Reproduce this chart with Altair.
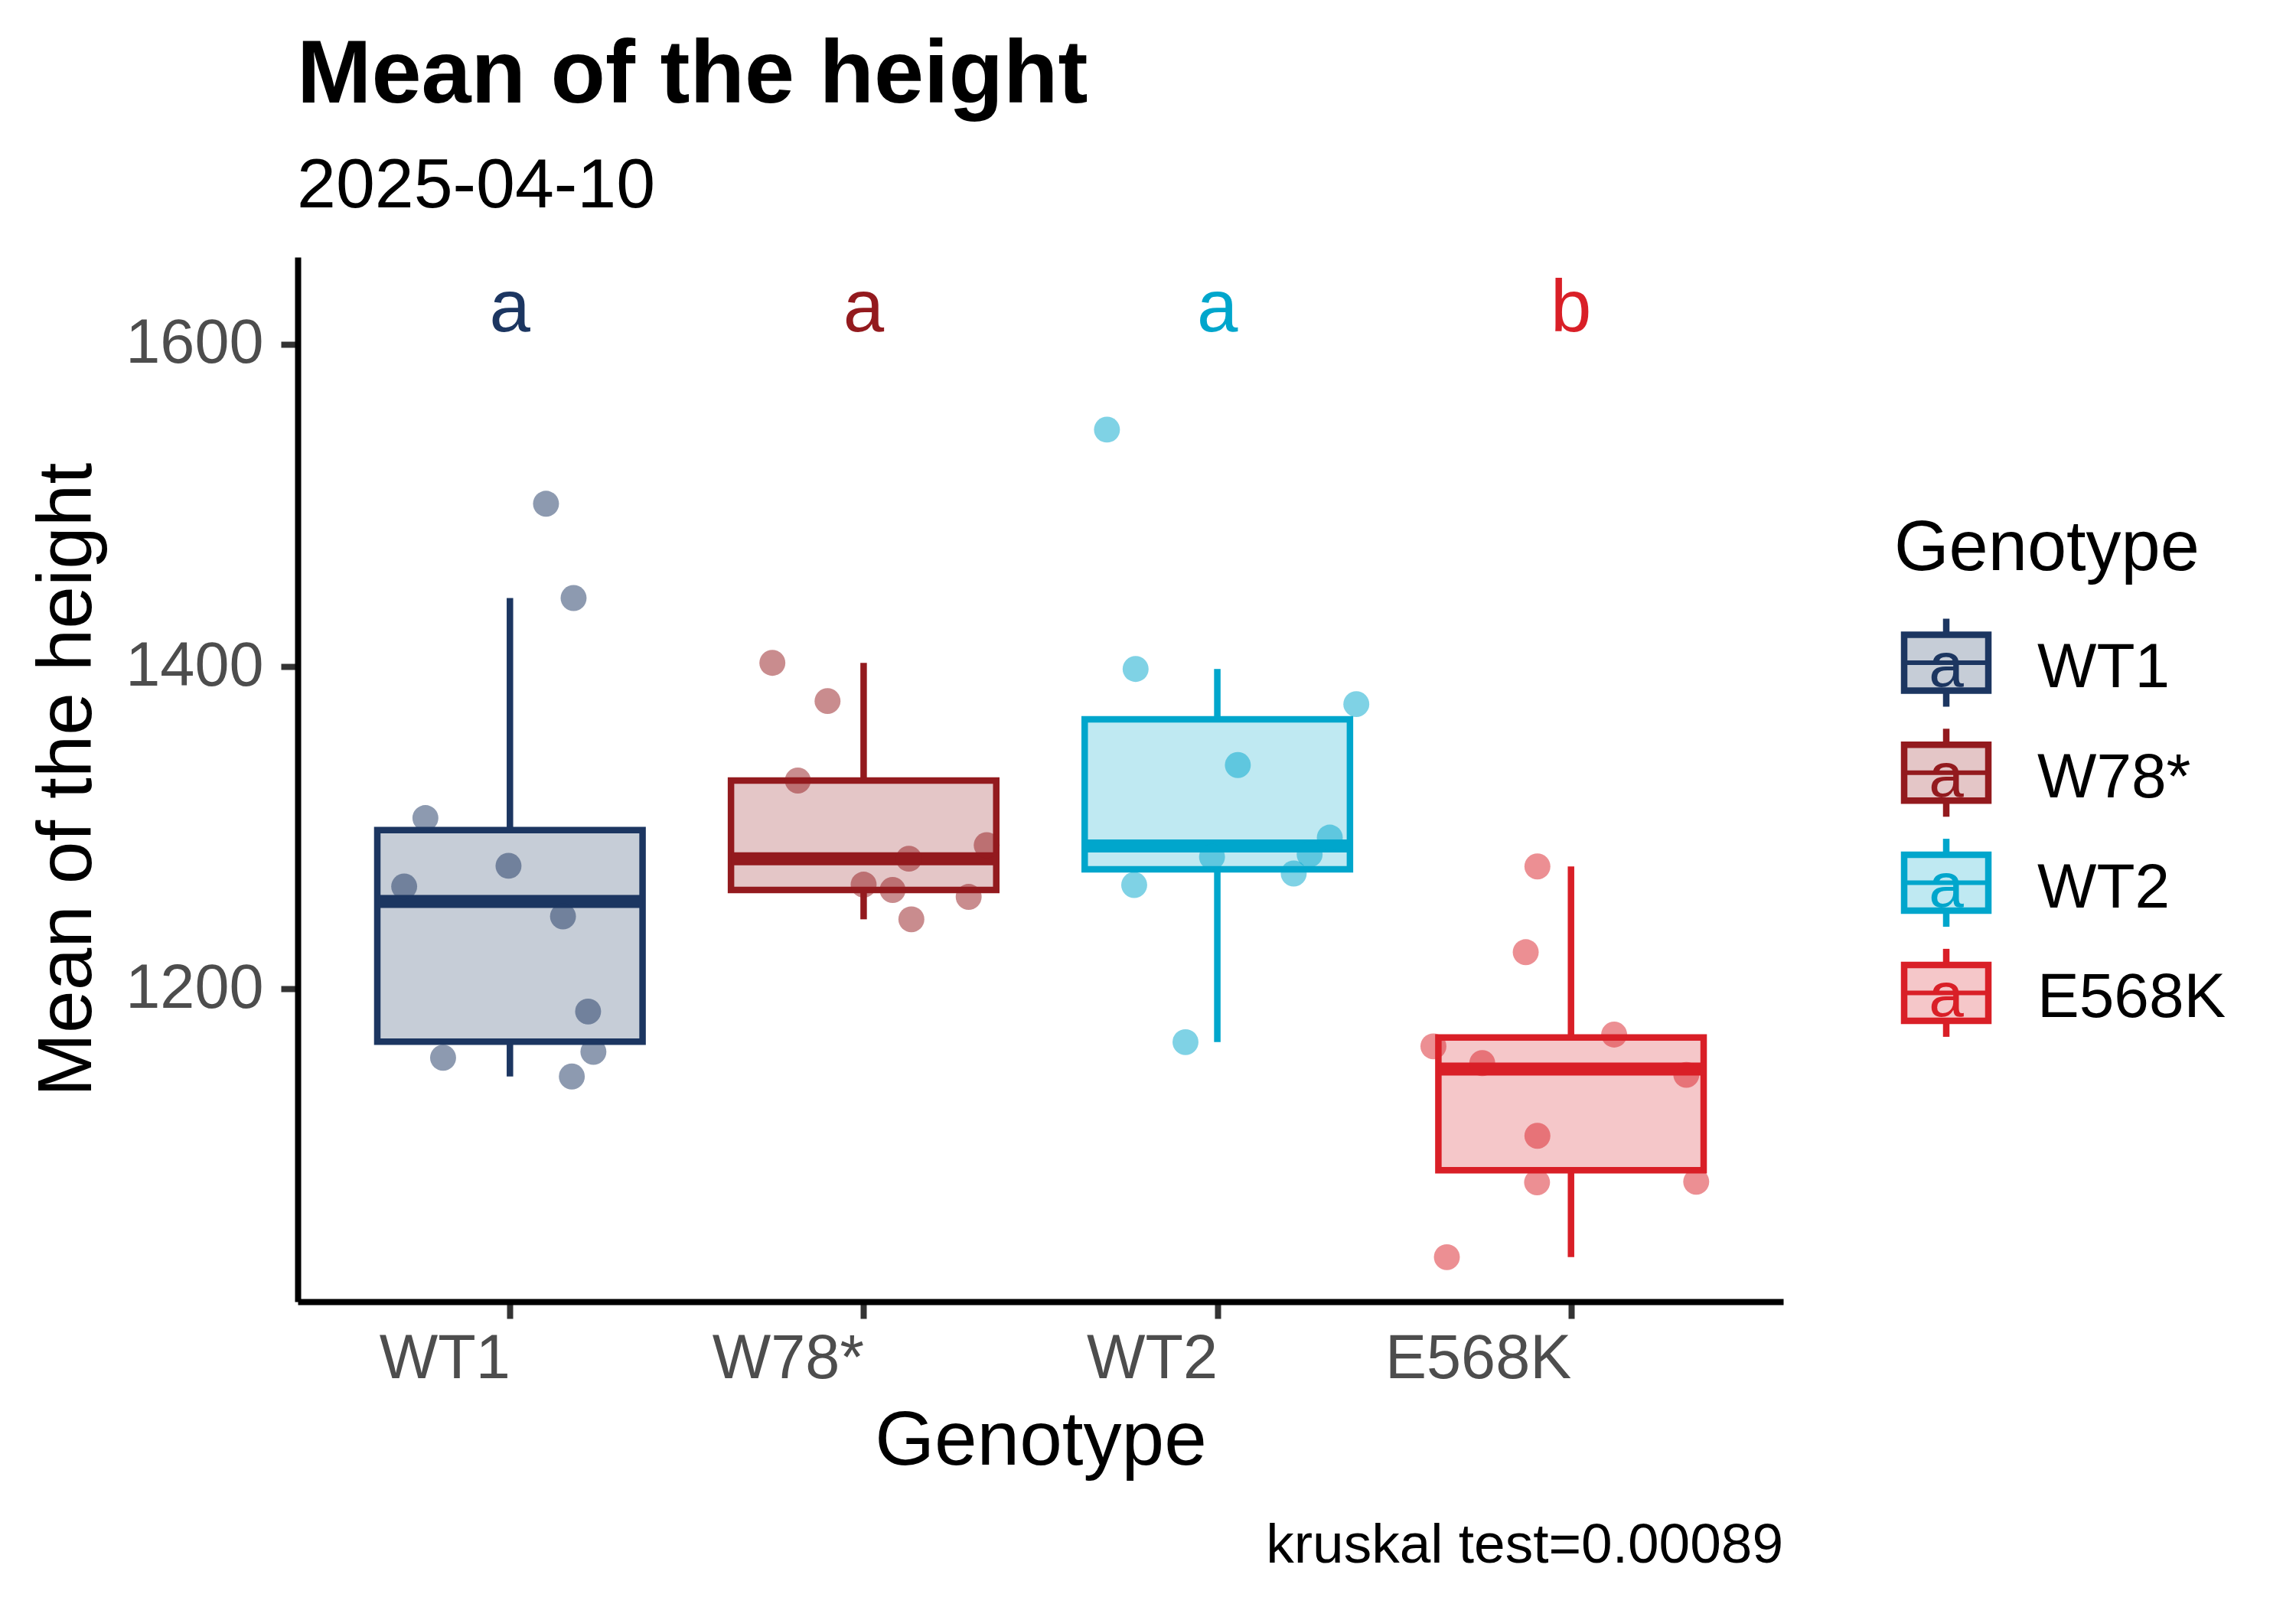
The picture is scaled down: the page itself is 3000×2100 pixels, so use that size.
import json
import altair as alt
import pandas as pd

# ---------------- data ----------------
genotypes = ["WT1", "W78*", "WT2", "E568K"]
colors = ["#1C3661", "#931A1E", "#00A6CC", "#D91F27"]
letters = ["a", "a", "a", "b"]
letter_height = 1624.5

wt1_values = [1501, 1442.5, 1306, 1263.6, 1276.4, 1245, 1186, 1157.3, 1161, 1145.7]
wt1_jitter = [0.102, 0.180, -0.239, -0.299, -0.004, 0.150, 0.221, -0.189, 0.236, 0.175]
w78_values = [1402.3, 1378.6, 1329.3, 1264.7, 1280.8, 1261.4, 1243.2, 1257.1, 1289.2]
w78_jitter = [-0.258, -0.102, -0.186, 0.0, 0.128, 0.082, 0.135, 0.297, 0.348]
wt2_values = [1547, 1398.5, 1376.7, 1338.9, 1293.9, 1283.5, 1281.9, 1271.6, 1264.5, 1167]
wt2_jitter = [-0.312, -0.231, 0.393, 0.058, 0.318, 0.261, -0.015, 0.216, -0.235, -0.090]
e568k_values = [1276, 1222.8, 1171.7, 1164.4, 1154, 1146.7, 1108.9, 1080, 1080.4, 1033.6]
e568k_jitter = [-0.095, -0.128, 0.122, -0.389, -0.251, 0.326, -0.095, -0.096, 0.354, -0.351]

y_ticks = [1200, 1400, 1600]
y_domain = [1006, 1654]
kruskal_p = "0.00089"

# ---------------- tables ----------------
series = [wt1_values, w78_values, wt2_values, e568k_values]
jitters = [wt1_jitter, w78_jitter, wt2_jitter, e568k_jitter]
rows = []
for i, g in enumerate(genotypes):
    for v, j in zip(series[i], jitters[i]):
        rows.append({"Genotype": g, "pos": i + 1, "value": v, "jit": j})
df = pd.DataFrame(rows)

letters_df = pd.DataFrame({"Genotype": genotypes, "pos": list(range(1, 5)),
                           "letter": letters, "ly": [letter_height] * 4})

FONT = "Liberation Sans"
W, H = 1941, 1365
BOXW = 0.75
LW = 8.5

color_scale = alt.Scale(domain=genotypes, range=colors)
x_axis = alt.Axis(values=[1, 2, 3, 4],
                  labelExpr=json.dumps(genotypes) + "[datum.value - 1]",
                  labelAlign="right", labelBaseline="top", tickSize=22, labelPadding=13,
                  titlePadding=18, labelOverlap=False, labelFlush=False, labelLimit=0)
y_axis = alt.Axis(values=y_ticks, format="d", tickSize=22, labelPadding=23, titlePadding=50,
                  labelLimit=0)
x_scale = alt.Scale(domain=[0.4, 4.6], nice=False, zero=False)
y_scale = alt.Scale(domain=y_domain, nice=False, zero=False)


def X(field):
    return alt.X(field, type="quantitative", scale=x_scale, axis=x_axis, title="Genotype")


def Y(field):
    return alt.Y(field, type="quantitative", scale=y_scale, axis=y_axis, title="Mean of the height")


col = alt.Color("Genotype:N", scale=color_scale, legend=None)

stats = (
    alt.Chart(df)
    .transform_joinaggregate(q1="q1(value)", q3="q3(value)", med="median(value)",
                             groupby=["Genotype"])
    .transform_calculate(lo="datum.q1 - 1.5 * (datum.q3 - datum.q1)",
                         hi="datum.q3 + 1.5 * (datum.q3 - datum.q1)")
    .transform_filter("datum.value >= datum.lo && datum.value <= datum.hi")
    .transform_aggregate(wlo="min(value)", whi="max(value)", bq1="min(q1)", bq3="min(q3)",
                         bmed="min(med)", bpos="min(pos)", groupby=["Genotype"])
    .transform_calculate(xl=f"datum.bpos - {BOXW / 2}", xr=f"datum.bpos + {BOXW / 2}")
)

whisk_lo = stats.mark_rule(strokeWidth=LW).encode(
    x=X("bpos"), y=Y("wlo"), y2="bq1", color=col)
whisk_hi = stats.mark_rule(strokeWidth=LW).encode(
    x=X("bpos"), y=Y("bq3"), y2="whi", color=col)
boxes = stats.mark_bar(strokeWidth=LW, fillOpacity=0.25, strokeOpacity=1).encode(
    x=X("xl"), x2="xr", y=Y("bq1"), y2="bq3",
    fill=alt.Fill("Genotype:N", scale=color_scale, legend=None),
    stroke=alt.Stroke("Genotype:N", scale=color_scale, legend=None))
medians = stats.mark_rule(strokeWidth=2 * LW).encode(
    x=X("xl"), x2="xr", y=Y("bmed"), color=col)

points = (
    alt.Chart(df)
    .transform_calculate(jx="datum.pos + datum.jit")
    .mark_circle(size=1150, opacity=0.5)
    .encode(x=X("jx"), y=Y("value"), color=col)
)

letter_marks = alt.Chart(letters_df).mark_text(
    fontSize=96, font=FONT, baseline="middle", dy=6).encode(
    x=X("pos"), y=Y("ly"), text="letter:N", color=col)

caption = alt.Chart(pd.DataFrame({"t": [f"kruskal test={kruskal_p}"]})).mark_text(
    fontSize=73, font=FONT, align="right", baseline="alphabetic", color="black").encode(
    x=alt.value(W), y=alt.value(2038 - 332), text="t:N")

main = alt.layer(whisk_lo, whisk_hi, boxes, medians, points, letter_marks, caption).properties(
    width=W, height=H)

# ---------------- hand-drawn legend panel ----------------
leg_df = pd.DataFrame({"Genotype": genotypes, "row": list(range(4)), "key": ["a"] * 4})
ROW0, STEP = 530, 143.8
KX0, KX1, KC, LX = 118, 228, 173, 292

leg = alt.Chart(leg_df).transform_calculate(
    cy=f"{ROW0} + datum.row * {STEP}",
).transform_calculate(
    t1="datum.cy - 57.5", t2="datum.cy - 36.5",
    b1="datum.cy + 36.5", b2="datum.cy + 57.5",
    ay="datum.cy + 31", ly="datum.cy + 32",
)

leg_w1 = leg.mark_rule(strokeWidth=LW).encode(
    x=alt.value(KC), y=alt.Y("t1:Q", scale=None), y2="t2:Q", color=col)
leg_w2 = leg.mark_rule(strokeWidth=LW).encode(
    x=alt.value(KC), y=alt.Y("b1:Q", scale=None), y2="b2:Q", color=col)
leg_box = leg.mark_rect(strokeWidth=LW, fillOpacity=0.25, strokeOpacity=1).encode(
    x=alt.value(KX0), x2=alt.value(KX1), y=alt.Y("t2:Q", scale=None), y2="b1:Q",
    fill=alt.Fill("Genotype:N", scale=color_scale, legend=None),
    stroke=alt.Stroke("Genotype:N", scale=color_scale, legend=None))
leg_med = leg.mark_rule(strokeWidth=6).encode(
    x=alt.value(KX0), x2=alt.value(KX1), y=alt.Y("cy:Q", scale=None), color=col)
leg_a = leg.mark_text(fontSize=82, font=FONT, baseline="alphabetic").encode(
    x=alt.value(KC), y=alt.Y("ay:Q", scale=None), text="key:N", color=col)
leg_lab = leg.mark_text(fontSize=82, font=FONT, align="left", baseline="alphabetic",
                        color="black").encode(
    x=alt.value(LX), y=alt.Y("ly:Q", scale=None), text="Genotype:N")
leg_title = alt.Chart(pd.DataFrame({"t": ["Genotype"]})).mark_text(
    fontSize=92, font=FONT, align="left", baseline="alphabetic", color="black").encode(
    x=alt.value(105), y=alt.value(409), text="t:N")

legend_panel = alt.layer(leg_w1, leg_w2, leg_box, leg_med, leg_a, leg_lab, leg_title).properties(
    width=600, height=H)

chart = (
    alt.hconcat(main, legend_panel, spacing=40)
    .properties(
        title=alt.TitleParams(
            text="Mean of the height", subtitle="2025-04-10", anchor="start", dx=350,
            fontSize=117, font=FONT, fontWeight="bold", color="black",
            subtitleFontSize=91.5, subtitleFont=FONT, subtitleColor="black",
            subtitlePadding=40, offset=45),
        padding={"left": 30, "top": 31, "right": 5, "bottom": 5},
        background="white",
    )
    .configure_view(stroke=None)
    .configure_axis(domainColor="black", domainWidth=8, tickColor="#333333", tickWidth=8,
                    grid=False, labelFont=FONT, titleFont=FONT, labelColor="#4D4D4D",
                    titleColor="black", labelFontSize=81, titleFontSize=100,
                    titleFontWeight="normal")
)

chart.save("out.html", embed_options={"renderer": "svg", "actions": False})
